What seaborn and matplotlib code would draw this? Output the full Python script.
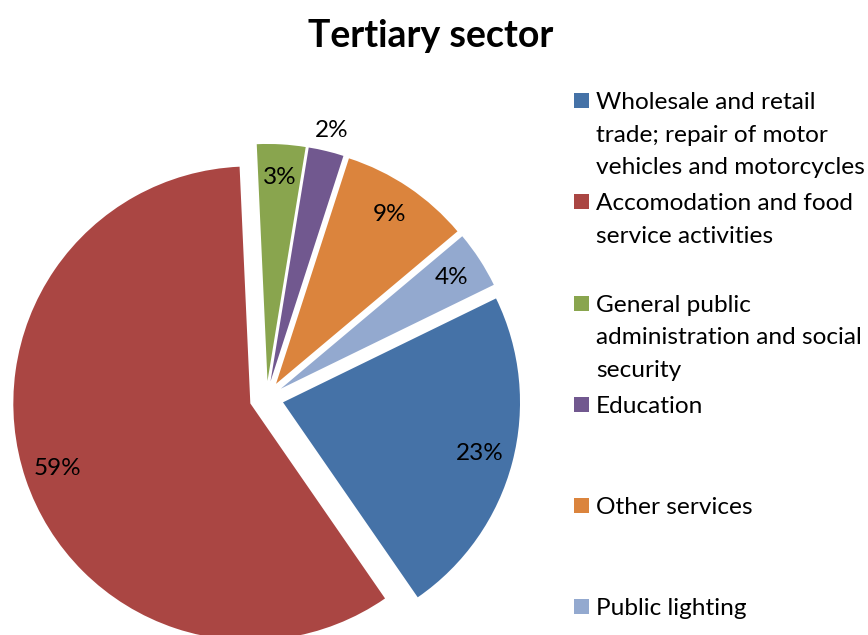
import matplotlib
matplotlib.use("Agg")
import matplotlib.pyplot as plt
import seaborn as sns
from matplotlib.patches import Rectangle

# ---- data ----
categories = [
    "Wholesale and retail trade; repair of motor vehicles and motorcycles",
    "Accomodation and food service activities",
    "General public administration and social security",
    "Education",
    "Other services",
    "Public lighting",
]
legend_labels = [
    "Wholesale and retail\ntrade; repair of motor\nvehicles and motorcycles",
    "Accomodation and food\nservice activities",
    "General public\nadministration and social\nsecurity",
    "Education",
    "Other services",
    "Public lighting",
]
shares = [22.6, 58.9, 3.3, 2.4, 8.9, 3.9]
colors = ["#4572A7", "#AA4643", "#89A54E", "#71588F", "#DB843D", "#93A9CF"]
title = "Tertiary sector"

sns.set_theme(style="white")
plt.rcParams["font.family"] = ["Lato", "DejaVu Sans"]

W, H = 868, 635
fig = plt.figure(figsize=(W / 100, H / 100), dpi=100)

# pie axes placed so radius 1 = 237 px, centre at (266.5, 398) px
R = 237.0
cx, cy = 266.5, 398.0
half = 1.2 * R
ax = fig.add_axes([(cx - half) / W, (H - cy - half) / H, 2 * half / W, 2 * half / H])

wedges, texts, autotexts = ax.pie(
    shares,
    colors=colors,
    startangle=26,
    counterclock=False,
    explode=[0.072] * len(shares),
    autopct="%.0f%%",
    pctdistance=0.86,
    wedgeprops=dict(linewidth=0),
    textprops=dict(fontsize=17.5, color="black"),
)
ax.set_xlim(-1.2, 1.2)
ax.set_ylim(-1.2, 1.2)
ax.set_aspect("equal")
ax.axis("off")

# move the small "Education" label outside the slice
wc = wedges[3].center
px, py = autotexts[3].get_position()
f = 1.09 / 0.86
autotexts[3].set_position((wc[0] + (px - wc[0]) * f, wc[1] + (py - wc[1]) * f))

# title
fig.text(431 / W, 1 - 47 / H, title, ha="center", va="baseline",
         fontsize=27, fontweight="bold", color="black")

# legend
base0 = 107.3
step = 101.2
for i, (lab, col) in enumerate(zip(legend_labels, colors)):
    b = base0 + step * i
    fig.add_artist(Rectangle((574 / W, 1 - (b + 1) / H), 15 / W, 15 / H,
                             transform=fig.transFigure, color=col, lw=0))
    fig.text(596 / W, 1 - (b - 15) / H, lab, ha="left", va="top",
             fontsize=17.6, linespacing=1.68, color="black")

fig.savefig("out.png", dpi=100)
